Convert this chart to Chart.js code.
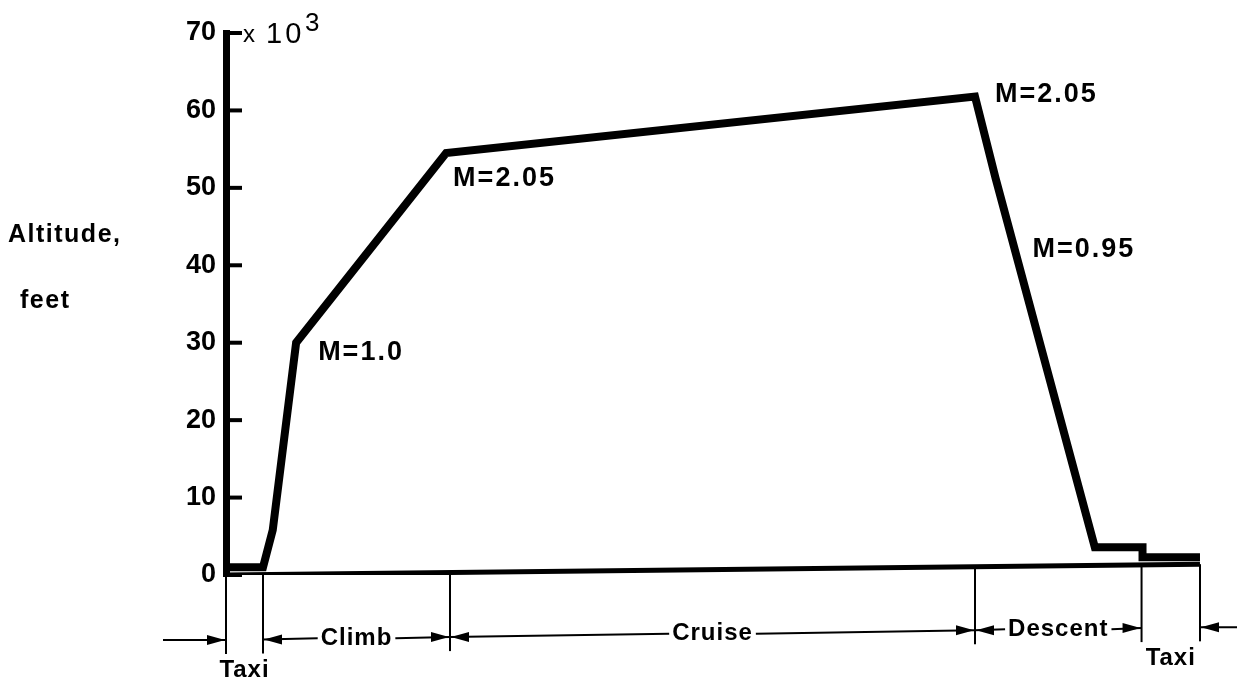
<!DOCTYPE html>
<html>
<head>
<meta charset="utf-8">
<title>Mission profile</title>
<script src="https://cdn.jsdelivr.net/npm/chart.js@4/dist/chart.umd.min.js"></script>
<style>
  body { margin: 0; background: #fff; }
  #wrap { width: 1237px; height: 687px; position: relative; }
</style>
</head>
<body>
<div id="wrap"><canvas id="profileChart"></canvas></div>
<script>
// flight profile, range in percent of mission, altitude in 1000 ft
const profileRange = [0, 3.8, 4.8, 7.2, 22.6, 76.9, 79.0, 89.2, 94.1, 94.1, 100]
const profileAltitude = [1.0, 1.0, 5.8, 30, 54.5, 61.8, 51.3, 3.6, 3.6, 2.3, 2.3]

// ground line (slightly skewed in the original drawing)
const groundRange = [0, 100]
const groundAltitude = [0, 1.4]

const yTicks = [0, 10, 20, 30, 40, 50, 60, 70]

// mission segments
const phaseBounds = [0, 3.8, 23.0, 76.9, 94.0, 100]
const phaseNames = ['Taxi', 'Climb', 'Cruise', 'Descent', 'Taxi']

// Mach labels, attached to profile vertices
const machLabels = ['M=1.0', 'M=2.05', 'M=2.05', 'M=0.95']
const machVertex = [3, 4, 5, 6]

const ink = '#000'
const labelFont = 'Liberation Sans, Arial, sans-serif'

function line(ctx, x1, y1, x2, y2) {
  ctx.beginPath()
  ctx.moveTo(x1, y1)
  ctx.lineTo(x2, y2)
  ctx.stroke()
}

function arrowHead(ctx, tipX, y, dir) {
  // dir = 1 points right, -1 points left
  ctx.beginPath()
  ctx.moveTo(tipX, y)
  ctx.lineTo(tipX - dir * 18, y - 5)
  ctx.lineTo(tipX - dir * 18, y + 5)
  ctx.closePath()
  ctx.fill()
}

const drawingPlugin = {
  id: 'drawing',
  afterDraw(chart) {
    const { ctx, chartArea: area, scales } = chart
    const x = scales.x
    const y = scales.y
    ctx.save()
    ctx.fillStyle = ink
    ctx.strokeStyle = ink

    // tick marks point into the plot
    ctx.lineWidth = 4
    yTicks.forEach(v => {
      const py = y.getPixelForValue(v)
      line(ctx, area.left - 3, py, area.left + 16, py)
    })

    // multiplier
    const topY = y.getPixelForValue(70)
    ctx.textAlign = 'left'
    ctx.textBaseline = 'alphabetic'
    ctx.font = '24px ' + labelFont
    ctx.fillText('x', area.left + 17, topY + 9)
    ctx.font = '29px ' + labelFont
    ctx.letterSpacing = '3px'
    ctx.fillText('10', area.left + 40, topY + 10)
    ctx.letterSpacing = '0px'
    ctx.font = '26px ' + labelFont
    ctx.fillText('3', area.left + 79, topY - 2)

    // axis title
    ctx.font = 'bold 25px ' + labelFont
    ctx.letterSpacing = '1.5px'
    const midY = y.getPixelForValue(40)
    ctx.fillText('Altitude,', 8, midY - 23)
    ctx.fillText('feet', 20, midY + 43)

    // Mach numbers
    const machOffset = [[22, 17], [7, 33], [20, 6], [37, 79]]
    ctx.font = 'bold 27px ' + labelFont
    ctx.letterSpacing = '2px'
    machLabels.forEach((txt, i) => {
      const k = machVertex[i]
      const px = x.getPixelForValue(profileRange[k])
      const py = y.getPixelForValue(profileAltitude[k])
      ctx.fillText(txt, px + machOffset[i][0], py + machOffset[i][1])
    })

    // segment boundaries and dimension arrows
    const rowY = px => area.bottom + 65 - 0.013 * (px - area.left)
    const groundY = px => {
      const r = x.getValueForPixel(px)
      const t = (r - groundRange[0]) / (groundRange[1] - groundRange[0])
      return y.getPixelForValue(groundAltitude[0] + t * (groundAltitude[1] - groundAltitude[0]))
    }
    const bx = phaseBounds.map(v => x.getPixelForValue(v))

    ctx.lineWidth = 2
    bx.forEach(px => line(ctx, px, groundY(px), px, rowY(px) + 14))

    ctx.font = 'bold 24px ' + labelFont
    ctx.letterSpacing = '1px'
    phaseNames.forEach((name, i) => {
      const left = bx[i]
      const right = bx[i + 1]
      const mid = (left + right) / 2
      const ry = rowY(mid)
      if (name === 'Taxi') {
        ctx.textAlign = 'center'
        ctx.textBaseline = 'alphabetic'
        ctx.fillText(name, mid, ry + 37)
        return
      }
      const w = ctx.measureText(name).width
      ctx.textAlign = 'center'
      ctx.textBaseline = 'middle'
      ctx.fillText(name, mid, ry)
      line(ctx, left, rowY(left), mid - w / 2 - 3, ry)
      line(ctx, mid + w / 2 + 3, ry, right, rowY(right))
      arrowHead(ctx, left + 1, rowY(left), -1)
      arrowHead(ctx, right - 1, rowY(right), 1)
    })

    // outer taxi arrows
    const y0 = rowY(bx[0])
    line(ctx, bx[0] - 63, y0, bx[0], y0)
    arrowHead(ctx, bx[0] - 1, y0, 1)
    const yN = rowY(bx[bx.length - 1])
    line(ctx, chart.width, yN, bx[bx.length - 1], yN)
    arrowHead(ctx, bx[bx.length - 1] + 1, yN, -1)

    ctx.restore()
  }
}

const ctx = document.getElementById('profileChart')

new Chart(ctx, {
  type: 'line',
  data: {
    datasets: [
      {
        label: 'Altitude',
        data: profileRange.map((r, i) => ({ x: r, y: profileAltitude[i] })),
        borderColor: ink,
        borderWidth: 8,
        borderJoinStyle: 'miter',
        pointRadius: 0,
        tension: 0,
        fill: false
      },
      {
        label: 'Ground',
        data: groundRange.map((r, i) => ({ x: r, y: groundAltitude[i] })),
        borderColor: ink,
        borderWidth: 5,
        pointRadius: 0,
        tension: 0,
        fill: false
      }
    ]
  },
  options: {
    responsive: true,
    maintainAspectRatio: false,
    animation: false,
    layout: {
      padding: { top: 33, bottom: 112, left: 0, right: 0 }
    },
    plugins: {
      legend: { display: false },
      tooltip: { enabled: false },
      title: { display: false }
    },
    scales: {
      x: {
        type: 'linear',
        display: false,
        min: 0,
        max: 103.8
      },
      y: {
        min: 0,
        max: 70,
        afterFit(scale) {
          scale.width = 226
        },
        grid: { display: false, drawTicks: false },
        border: { display: true, width: 7, color: ink },
        ticks: {
          stepSize: 10,
          padding: 10,
          color: ink,
          font: { family: labelFont, weight: 'bold', size: 27 }
        }
      }
    }
  },
  plugins: [drawingPlugin]
})
</script>
</body>
</html>
